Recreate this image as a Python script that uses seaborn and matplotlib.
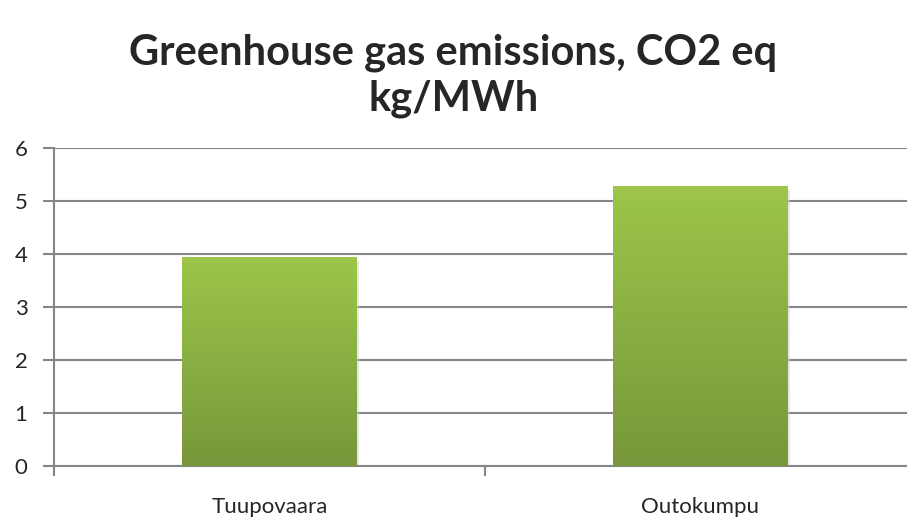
import numpy as np
import pandas as pd
import seaborn as sns
import matplotlib.pyplot as plt
import matplotlib.patheffects as pe
from matplotlib.colors import LinearSegmentedColormap

sites = ["Tuupovaara", "Outokumpu"]
emissions = [3.95, 5.29]
title = "Greenhouse gas emissions, CO2 eq\nkg/MWh"

df = pd.DataFrame({"site": sites, "co2": emissions})

sns.set_style("white")
plt.rcParams['font.family'] = ['Lato', 'DejaVu Sans']

fig = plt.figure(figsize=(9.07, 5.23), dpi=100)
ax = fig.add_axes([0.0595, 0.109, 0.950, 0.608])

sns.barplot(data=df, x="site", y="co2", color="#8db443", width=0.405, ax=ax, zorder=3)

# vertical gradient on the bars, like the Excel fill
grad = LinearSegmentedColormap.from_list("g", ["#77973a", "#9dc64a"])
g = np.linspace(0, 1, 256).reshape(-1, 1)
for p in list(ax.patches):
    x0, y0 = p.get_x(), p.get_y()
    w, h = p.get_width(), p.get_height()
    p.set_visible(False)
    bar = plt.Rectangle((x0, y0), w, h, facecolor="#8db443", edgecolor="none", zorder=2.5,
                        path_effects=[pe.SimplePatchShadow(offset=(2, -3), shadow_rgbFace="#d0d0d0", alpha=0.5), pe.Normal()])
    ax.add_patch(bar)
    im = ax.imshow(g, cmap=grad, origin="lower", aspect="auto",
                   extent=(x0, x0 + w, y0, y0 + h), zorder=3)
    im.set_clip_path(bar)

ax.set_xlim(-0.5, 1.5)
ax.set_ylim(0, 6)
ax.set_yticks(range(0, 7))
ax.yaxis.grid(True, color="#868686", linewidth=1.5, zorder=0)
ax.set_axisbelow(True)

for s in ["top", "right"]:
    ax.spines[s].set_visible(False)
for s in ["left", "bottom"]:
    ax.spines[s].set_color("#868686")
    ax.spines[s].set_linewidth(1.5)

ax.set_xticks([0, 1])
ax.set_xticklabels(sites, fontsize=16)
ax.set_xticks([-0.5, 0.5, 1.5], minor=True)
ax.tick_params(axis="x", which="major", length=0, pad=22)
ax.tick_params(axis="x", which="minor", length=7, width=1.5, color="#868686", direction="out")
ax.tick_params(axis="y", length=8, width=1.5, color="#868686", direction="out", labelsize=16, pad=11)
ax.tick_params(left=True, bottom=True, which="both")

ax.set_xlabel("")
ax.set_ylabel("")

fig.text(0.5, 0.855, title, ha="center", va="center", fontsize=30, fontweight="bold",
         linespacing=1.22)

fig.savefig("out.png", dpi=100)
